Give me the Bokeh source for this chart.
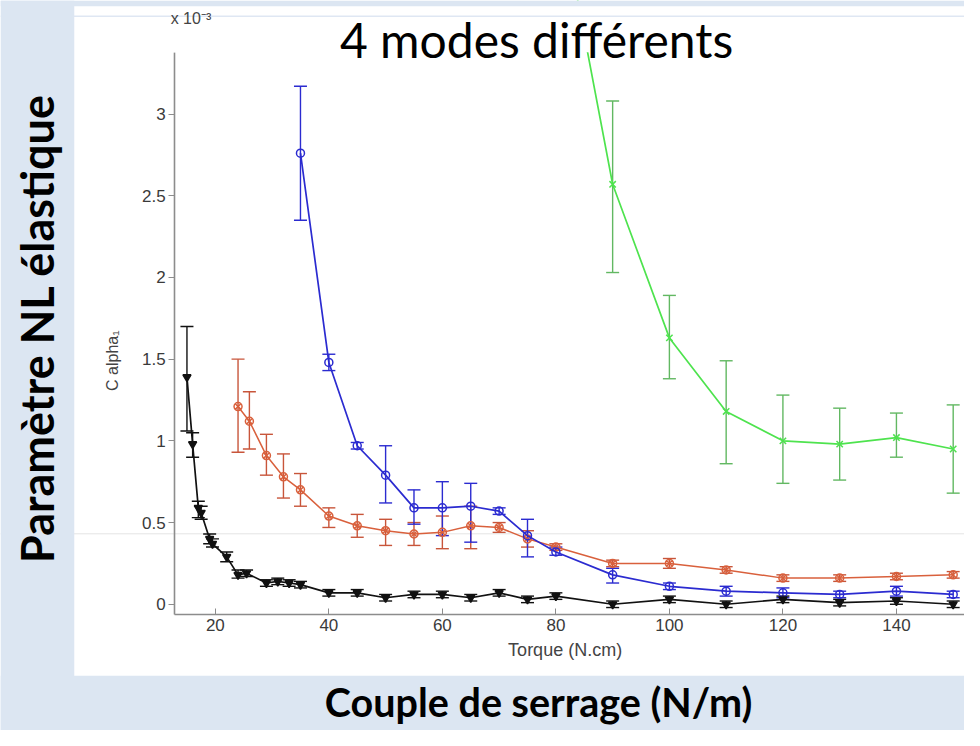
import math
from bokeh.plotting import figure
from bokeh.models import (ColumnDataSource, Whisker, TeeHead, LinearAxis, Label,
                          BoxAnnotation, Span, FixedTicker, CustomJSTickFormatter)
from bokeh.embed import file_html
from bokeh.resources import INLINE

# ---------------- data (values in units of 1e-3) ----------------
black_x = [15, 16, 17, 17.5, 19, 19.5, 22, 24, 25.5, 29, 31, 33, 35, 40, 45, 50, 55, 60, 65, 70, 75, 80, 90, 100, 110, 120, 130, 140, 150]
black_y = [1.39, 0.98, 0.59, 0.56, 0.40, 0.37, 0.29, 0.18, 0.19, 0.13, 0.14, 0.13, 0.12, 0.07, 0.07, 0.04, 0.06, 0.06, 0.04, 0.07, 0.03, 0.05, 0.00, 0.03, 0.00, 0.03, 0.01, 0.02, 0.00]
black_lo = [1.06, 0.90, 0.53, 0.52, 0.37, 0.35, 0.26, 0.16, 0.17, 0.11, 0.12, 0.11, 0.10, 0.05, 0.05, 0.02, 0.04, 0.04, 0.02, 0.05, 0.01, 0.03, -0.02, 0.01, -0.02, 0.01, -0.01, 0.00, -0.02]
black_hi = [1.70, 1.05, 0.63, 0.60, 0.43, 0.40, 0.32, 0.21, 0.21, 0.15, 0.16, 0.15, 0.14, 0.09, 0.09, 0.06, 0.08, 0.08, 0.06, 0.09, 0.05, 0.07, 0.02, 0.05, 0.02, 0.05, 0.03, 0.04, 0.02]

blue_x = [35, 40, 45, 50, 55, 60, 65, 70, 75, 80, 90, 100, 110, 120, 130, 140, 150]
blue_y = [2.76, 1.48, 0.97, 0.79, 0.59, 0.59, 0.60, 0.57, 0.42, 0.32, 0.18, 0.11, 0.08, 0.07, 0.06, 0.08, 0.06]
blue_lo = [2.35, 1.43, 0.95, 0.62, 0.49, 0.42, 0.38, 0.55, 0.29, 0.30, 0.13, 0.09, 0.05, 0.04, 0.04, 0.05, 0.04]
blue_hi = [3.17, 1.53, 0.99, 0.97, 0.70, 0.75, 0.74, 0.59, 0.52, 0.35, 0.22, 0.13, 0.11, 0.10, 0.08, 0.11, 0.08]

red_x = [24, 26, 29, 32, 35, 40, 45, 50, 55, 60, 65, 70, 75, 80, 90, 100, 110, 120, 130, 140, 150]
red_y = [1.21, 1.12, 0.91, 0.78, 0.70, 0.54, 0.48, 0.45, 0.43, 0.44, 0.48, 0.47, 0.40, 0.35, 0.25, 0.25, 0.21, 0.16, 0.16, 0.17, 0.18]
red_lo = [0.93, 0.95, 0.79, 0.65, 0.60, 0.47, 0.41, 0.36, 0.36, 0.34, 0.34, 0.44, 0.35, 0.33, 0.23, 0.22, 0.19, 0.14, 0.14, 0.15, 0.16]
red_hi = [1.50, 1.30, 1.04, 0.92, 0.80, 0.59, 0.55, 0.52, 0.50, 0.54, 0.60, 0.50, 0.45, 0.37, 0.27, 0.28, 0.23, 0.18, 0.18, 0.19, 0.20]

green_x = [80, 90, 100, 110, 120, 130, 140, 150]
green_y = [4.4, 2.57, 1.63, 1.18, 1.00, 0.98, 1.02, 0.95]
green_lo = [4.0, 2.03, 1.38, 0.86, 0.74, 0.76, 0.90, 0.68]
green_hi = [4.8, 3.08, 1.89, 1.49, 1.28, 1.20, 1.17, 1.22]

x_ticks = [20, 40, 60, 80, 100, 120, 140]
y_ticks = [0, 0.5, 1, 1.5, 2, 2.5, 3]

title_text = "4 modes différents"
ylabel_text = "Paramètre NL élastique"
xlabel_text = "Couple de serrage (N/m)"
inner_xlabel = "Torque (N.cm)"
inner_ylabel = "C alpha\u2081"
exponent_text = "x 10\u207b\u00b3"

# ---------------- layout helpers (slide pixel -> data units) ----------------
SLIDE = "#dce6f2"
def rx(px):
    return (px - 103.0) / 5.77
def ry(py):
    return (617.0 - py) / 167.0

X0, X1 = rx(0), rx(980)
Y0, Y1 = ry(746), ry(0)
AX_X, AX_Y, AX_TOP = rx(177), ry(627), ry(53)

p = figure(width=964, height=730, output_backend="svg", toolbar_location=None,
           x_range=(X0, X1), y_range=(Y0, Y1),
           x_axis_location=None, y_axis_location=None,
           min_border_left=0, min_border_right=0, min_border_top=0, min_border_bottom=0)
p.xgrid.visible = False
p.ygrid.visible = False
p.outline_line_color = None
p.background_fill_color = "white"
p.border_fill_color = SLIDE

# faint seam line of the pasted picture
p.add_layout(Span(location=ry(545), dimension="width", line_color="#e4e4e4", line_width=1, level="underlay"))

def add_series(xs, ys, lo, hi, color, bar_color, marker, size, lw):
    src = ColumnDataSource(dict(x=xs, y=ys, lower=lo, upper=hi))
    w = Whisker(base="x", upper="upper", lower="lower", source=src,
                line_color=bar_color, line_width=1.4,
                upper_head=TeeHead(size=13, line_color=bar_color, line_width=1.4),
                lower_head=TeeHead(size=13, line_color=bar_color, line_width=1.4))
    p.add_layout(w)
    p.line("x", "y", source=src, line_color=color, line_width=lw)
    p.scatter("x", "y", source=src, marker=marker, size=size,
              line_color=color, fill_color=None if marker != "inverted_triangle" else color,
              line_width=1.5)

add_series(green_x, green_y, green_lo, green_hi, "#4ee34e", "#62b862", "x", 9, 1.7)
add_series(red_x, red_y, red_lo, red_hi, "#d9603c", "#c8553a", "circle_x", 8, 1.5)
add_series(blue_x, blue_y, blue_lo, blue_hi, "#2b2bd0", "#2b2bd0", "circle", 8, 1.7)
add_series(black_x, black_y, black_lo, black_hi, "#111111", "#111111", "inverted_triangle", 8, 1.7)

# white above the inner axes' top (matlab axes clipping)
p.add_layout(BoxAnnotation(bottom=AX_TOP, fill_color="white", fill_alpha=1.0, line_color=None))
p.add_layout(Span(location=ry(16), dimension="width", line_color="#dfe7f3", line_width=1.5))
# slide background around the white picture
p.add_layout(BoxAnnotation(right=rx(75), fill_color=SLIDE, fill_alpha=1.0, line_color=None))
p.add_layout(BoxAnnotation(top=ry(690), fill_color=SLIDE, fill_alpha=1.0, line_color=None))
p.add_layout(BoxAnnotation(bottom=ry(6), fill_color=SLIDE, fill_alpha=1.0, line_color=None))

# inner matlab-like axes
yax = LinearAxis(fixed_location=AX_X, bounds=(AX_Y, AX_TOP))
yax.ticker = FixedTicker(ticks=y_ticks)
yax.formatter = CustomJSTickFormatter(code="return String(tick);")
xax = LinearAxis(fixed_location=AX_Y, bounds=(AX_X, X1))
xax.ticker = FixedTicker(ticks=x_ticks)
for ax in (xax, yax):
    ax.axis_line_color = "#8c8c8c"
    ax.axis_line_width = 1.6
    ax.major_tick_line_color = "#8c8c8c"
    ax.minor_tick_line_color = None
    ax.major_label_text_font = "Liberation Sans"
    ax.major_label_text_font_size = "17px"
    ax.major_label_text_color = "#3a3a3a"
xax.major_tick_in = 6
xax.major_tick_out = 0
xax.major_label_standoff = 5
yax.major_tick_in = 0
yax.major_tick_out = 6
yax.major_label_standoff = 3
p.add_layout(yax, "left")
p.add_layout(xax, "below")

# texts
p.add_layout(Label(x=rx(173), y=ry(18), text=exponent_text, text_font="Liberation Sans",
                   text_font_size="16px", text_color="#444444", text_baseline="middle"))
p.add_layout(Label(x=rx(114), y=ry(368), text=inner_ylabel, angle=math.pi / 2, text_font="Liberation Sans",
                   text_font_size="16px", text_color="#444444", text_align="center", text_baseline="middle"))
p.add_layout(Label(x=rx(574), y=ry(664), text=inner_xlabel, text_font="Liberation Sans",
                   text_font_size="18px", text_color="#444444", text_align="center", text_baseline="middle"))
p.add_layout(Label(x=rx(545), y=ry(40), text=title_text, text_font="Lato",
                   text_font_size="48px", text_color="black", text_align="center", text_baseline="middle"))
p.add_layout(Label(x=rx(37), y=ry(335), text=ylabel_text, angle=math.pi / 2, text_font="Lato",
                   text_font_style="bold", text_font_size="45px", text_color="black",
                   text_align="center", text_baseline="middle"))
p.add_layout(Label(x=rx(547), y=ry(716), text=xlabel_text, text_font="Lato",
                   text_font_style="bold", text_font_size="39.5px", text_color="black",
                   text_align="center", text_baseline="middle"))

open("out.html", "w").write(file_html(p, INLINE))
